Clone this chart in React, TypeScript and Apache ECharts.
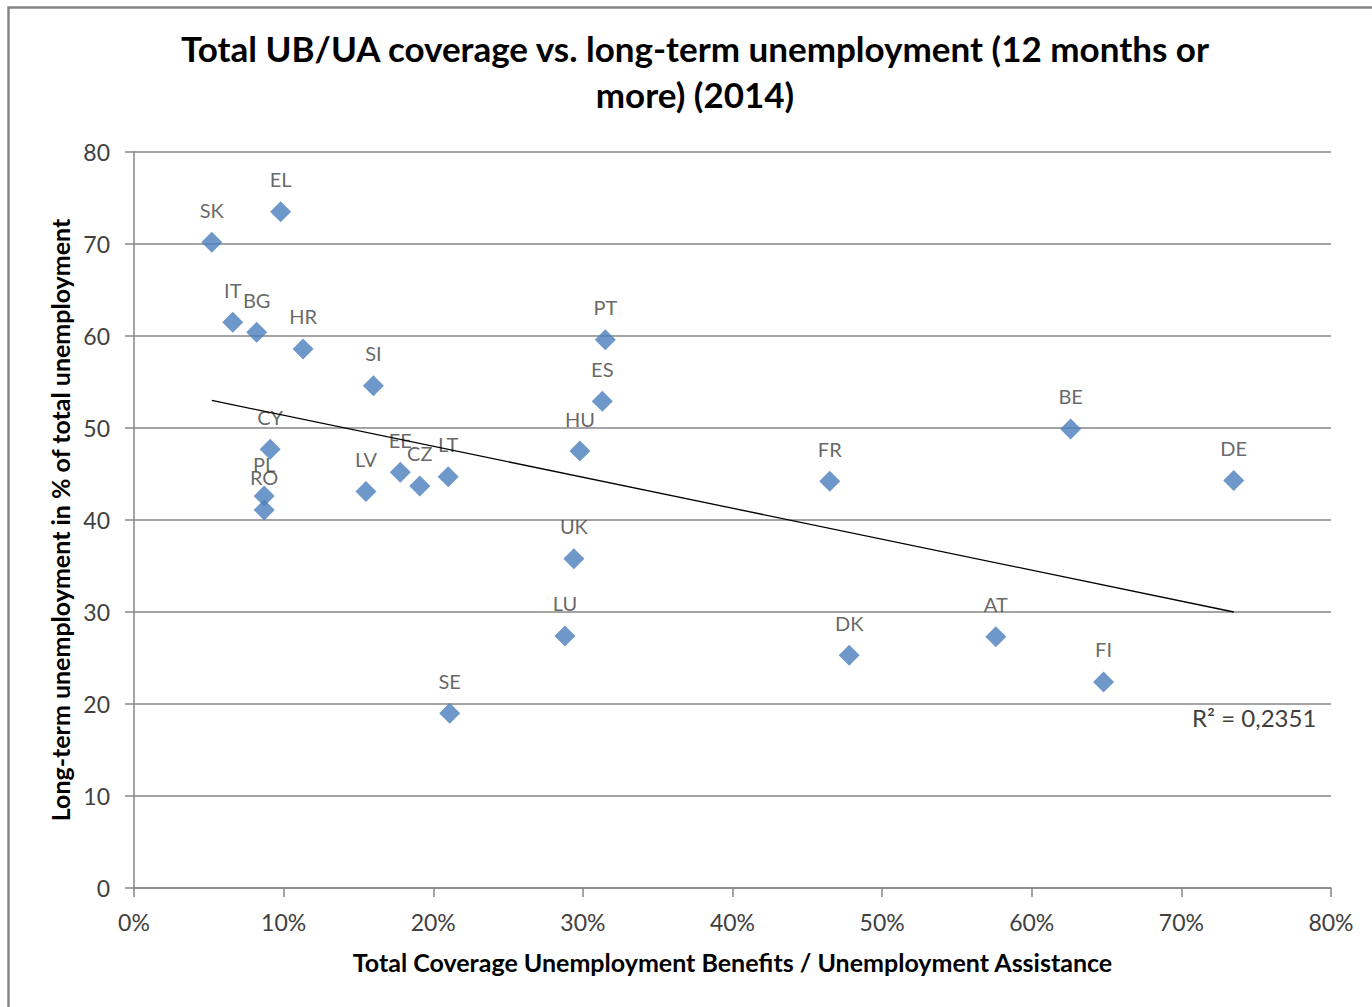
import React, { useEffect, useRef } from "react";
import * as echarts from "echarts";

const countries = ["SK", "EL", "IT", "BG", "HR", "SI", "CY", "PL", "RO", "LV", "EE", "CZ", "LT", "SE", "PT", "ES", "HU", "UK", "LU", "FR", "DK", "BE", "AT", "FI", "DE"];
const coverage = [5.2, 9.8, 6.6, 8.2, 11.3, 16.0, 9.1, 8.7, 8.7, 15.5, 17.8, 19.1, 21.0, 21.1, 31.5, 31.3, 29.8, 29.4, 28.8, 46.5, 47.8, 62.6, 57.6, 64.8, 73.5];
const longTerm = [70.2, 73.5, 61.5, 60.4, 58.6, 54.6, 47.7, 42.6, 41.1, 43.1, 45.2, 43.7, 44.7, 19.0, 59.6, 52.9, 47.5, 35.8, 27.4, 44.2, 25.3, 49.9, 27.3, 22.4, 44.3];
const trendX = [5.2, 73.5];
const trendY = [53.0, 30.0];
const xTicks = { min: 0, max: 80, interval: 10 };
const yTicks = { min: 0, max: 80, interval: 10 };
const titleText = "Total UB/UA coverage vs. long-term unemployment (12 months or\nmore) (2014)";
const xName = "Total Coverage Unemployment Benefits / Unemployment Assistance";
const yName = "Long-term unemployment in % of total unemployment";
const r2Text = "R² = 0,2351";

const FONT = "Lato, 'Open Sans', sans-serif";

export default function App() {
  const ref = useRef<HTMLDivElement>(null);
  useEffect(() => {
    if (!ref.current) return;
    const chart = echarts.init(ref.current, null, { renderer: "svg" });
    const points = countries.map((c, i) => ({ name: c, value: [coverage[i], longTerm[i]] }));
    chart.setOption({
      animation: false,
      backgroundColor: "#ffffff",
      textStyle: { fontFamily: FONT },
      grid: { left: 134, right: 41, top: 152, bottom: 119, containLabel: false },
      xAxis: {
        type: "value",
        min: xTicks.min,
        max: xTicks.max,
        interval: xTicks.interval,
        name: xName,
        nameLocation: "middle",
        nameGap: 61,
        nameTextStyle: { fontSize: 25, fontWeight: "bold", color: "#000", fontFamily: FONT },
        axisLine: { show: true, lineStyle: { color: "#868686", width: 1.5 } },
        axisTick: { show: true, length: 9, lineStyle: { color: "#868686", width: 1.5 } },
        axisLabel: { formatter: "{value}%", fontSize: 23, color: "#404040", margin: 22, fontFamily: FONT },
        splitLine: { show: false },
      },
      yAxis: {
        type: "value",
        min: yTicks.min,
        max: yTicks.max,
        interval: yTicks.interval,
        name: yName,
        nameLocation: "middle",
        nameGap: 58,
        nameTextStyle: { fontSize: 25, fontWeight: "bold", color: "#000", fontFamily: FONT },
        axisLine: { show: true, lineStyle: { color: "#868686", width: 1.5 } },
        axisTick: { show: true, length: 9, lineStyle: { color: "#868686", width: 1.5 } },
        axisLabel: { fontSize: 23, color: "#404040", margin: 24, fontFamily: FONT },
        splitLine: { show: true, lineStyle: { color: "#868686", width: 1.5 } },
      },
      graphic: [
        {
          type: "rect",
          shape: { x: 8.5, y: 7.5, width: 1500, height: 1200 },
          style: { fill: "none", stroke: "#868686", lineWidth: 2.5 },
          silent: true,
        },
        {
          type: "text",
          x: 695,
          y: 25,
          style: {
            text: titleText,
            fontSize: 35,
            fontWeight: "bold",
            fill: "#000",
            lineHeight: 46,
            align: "center",
            verticalAlign: "top",
            fontFamily: FONT,
          },
        },
        {
          type: "text",
          left: 1192,
          top: 705,
          style: { text: r2Text, fontSize: 24, fill: "#404040", fontFamily: FONT },
        },
      ],
      series: [
        {
          type: "line",
          data: trendX.map((x, i) => [x, trendY[i]]),
          symbol: "none",
          lineStyle: { color: "#000", width: 1.3 },
          z: 3,
          silent: true,
        },
        {
          type: "scatter",
          data: points,
          symbol: "diamond",
          symbolSize: 21,
          itemStyle: { color: "#4A7EBB" },
          z: 2,
          label: {
            show: true,
            position: "top",
            distance: 12,
            formatter: "{b}",
            fontSize: 20,
            color: "#404040",
            fontFamily: FONT,
          },
        },
      ],
    });
    return () => chart.dispose();
  }, []);
  return (
    <div
      ref={ref}
      style={{ position: "absolute", left: 0, top: 0, width: 1372, height: 1007 }}
    />
  );
}
